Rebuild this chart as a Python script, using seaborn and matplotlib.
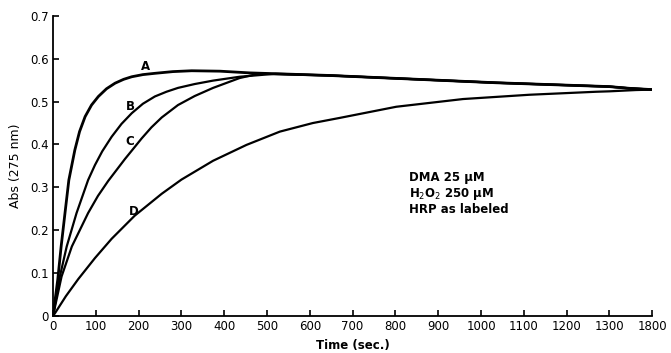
import numpy as np
import pandas as pd
import matplotlib
matplotlib.use("Agg")
import matplotlib.pyplot as plt
import seaborn as sns

# ---- data ----
t_A = [0, 11, 19, 28, 37, 51, 62, 75, 90, 106, 125, 145, 165, 184, 210, 238, 280, 324, 390,
       460, 646, 1035, 1300, 1535, 1800]
y_A = [0, 0.084, 0.162, 0.240, 0.317, 0.387, 0.430, 0.465, 0.492, 0.512, 0.530, 0.543, 0.552,
       0.558, 0.563, 0.566, 0.570, 0.572, 0.571, 0.567, 0.561, 0.544, 0.535, 0.531, 0.528]

t_B = [0, 16, 32, 55, 82, 98, 115, 137, 160, 184, 210, 238, 265, 292, 331, 374, 436, 520,
       646, 1035, 1300, 1535, 1800]
y_B = [0, 0.092, 0.162, 0.240, 0.317, 0.352, 0.384, 0.418, 0.448, 0.473, 0.495, 0.512, 0.523,
       0.532, 0.541, 0.549, 0.558, 0.565, 0.561, 0.544, 0.535, 0.531, 0.528]

t_C = [0, 20, 44, 82, 105, 129, 168, 190, 207, 230, 254, 292, 331, 374, 436, 480, 646, 1035,
       1300, 1535, 1800]
y_C = [0, 0.092, 0.162, 0.240, 0.280, 0.315, 0.366, 0.393, 0.414, 0.440, 0.463, 0.492, 0.513,
       0.532, 0.555, 0.565, 0.561, 0.544, 0.535, 0.531, 0.528]

t_D = [0, 5, 30, 59, 98, 137, 191, 254, 300, 374, 452, 530, 607, 670, 802, 958, 1113, 1269,
       1300, 1610, 1800]
y_D = [0, 0.007, 0.046, 0.086, 0.135, 0.180, 0.234, 0.285, 0.318, 0.362, 0.399, 0.430, 0.450,
       0.462, 0.488, 0.506, 0.516, 0.523, 0.524, 0.527, 0.528]

curve_labels = ["A", "B", "C", "D"]
label_t = [215, 180, 180, 189]
label_y = [0.583, 0.488, 0.408, 0.243]

x_ticks = [0, 100, 200, 300, 400, 500, 600, 700, 800, 900, 1000, 1100, 1200, 1300, 1800]
y_ticks = [0, 0.1, 0.2, 0.3, 0.4, 0.5, 0.6, 0.7]
note_lines = ["DMA 25 \u03bcM", "H$_2$O$_2$ 250 \u03bcM", "HRP as labeled"]

# ---- build long table ----
frames = []
for name, t, y in zip(curve_labels, [t_A, t_B, t_C, t_D], [y_A, y_B, y_C, y_D]):
    frames.append(pd.DataFrame({"Time": t, "Abs": y, "curve": name}))
df = pd.concat(frames, ignore_index=True)

sns.set_theme(style="ticks")
plt.rcParams["font.family"] = ["DejaVu Sans"]
plt.rcParams["text.color"] = "black"
plt.rcParams["axes.labelcolor"] = "black"

fig = plt.figure(figsize=(6.71, 3.53), dpi=100)
ax = fig.add_axes([0.079, 0.105, 0.893, 0.850])

# broken x axis: 1300..1800 compressed into one tick interval
def fwd(x):
    x = np.asarray(x, dtype=float)
    return np.where(x <= 1300, x, 1300 + (x - 1300) / 5.0)

def inv(u):
    u = np.asarray(u, dtype=float)
    return np.where(u <= 1300, u, 1300 + (u - 1300) * 5.0)

ax.set_xscale("function", functions=(fwd, inv))

widths = {"A": 2.0, "B": 1.6, "C": 1.6, "D": 1.6}
for name in curve_labels:
    sub = df[df["curve"] == name]
    sns.lineplot(data=sub, x="Time", y="Abs", ax=ax, color="black",
                 linewidth=widths[name], sort=True, estimator=None, legend=False)

for lab, lt, ly in zip(curve_labels, label_t, label_y):
    ax.text(lt, ly, lab, fontsize=8.5, fontweight="bold", ha="center", va="center",
            color="black")

for i, line in enumerate(note_lines):
    ax.text(831, 0.322 - i * 0.037, line, fontsize=8.5, fontweight="bold",
            ha="left", va="center", color="black")

ax.set_xlim(0, 1800)
ax.set_ylim(0, 0.7)
ax.set_xticks(x_ticks)
ax.set_xticklabels([str(v) for v in x_ticks])
ax.set_yticks(y_ticks)
ax.set_yticklabels(["0" if v == 0 else f"{v:.1f}" for v in y_ticks])
ax.tick_params(direction="in", length=4, width=1.2, labelsize=8.5, colors="black", pad=3)
ax.set_xlabel("Time (sec.)", fontsize=8.5, fontweight="bold", labelpad=4, color="black")
ax.set_ylabel("Abs (275 nm)", fontsize=9, labelpad=6, color="black")
sns.despine(ax=ax)
for s in ["left", "bottom"]:
    ax.spines[s].set_linewidth(1.3)
    ax.spines[s].set_color("black")

fig.savefig("out.png", dpi=100)
